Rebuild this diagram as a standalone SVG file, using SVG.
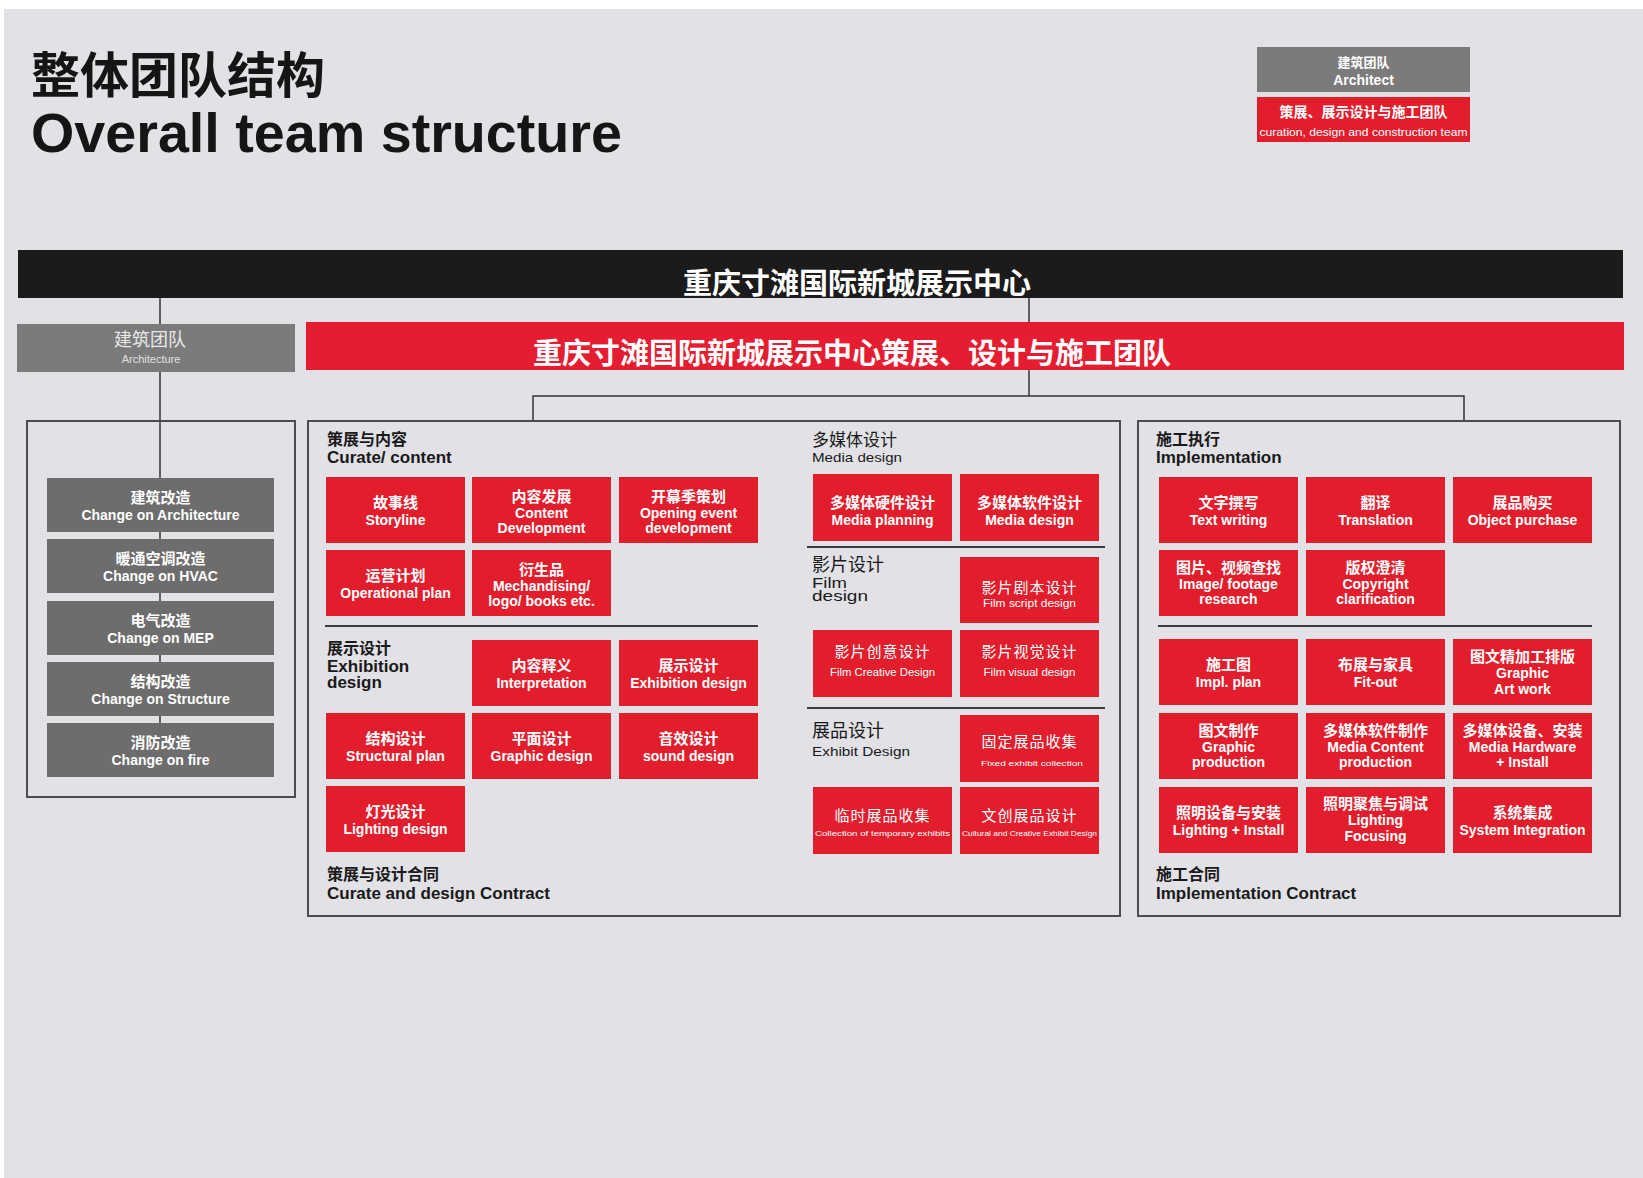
<svg xmlns="http://www.w3.org/2000/svg" width="1643" height="1178" viewBox="0 0 1643 1178">
<defs>
<style>
text{font-family:"Liberation Sans","Noto Sans CJK SC",sans-serif}
.cjk{font-family:"Noto Sans CJK SC","Liberation Sans",sans-serif}
.rb{fill:#e21e2d}
.gb{fill:#6d6d6d}
.w{fill:#fff}
.bd{font-weight:bold}
.c{text-anchor:middle}
.z{font-size:15px;font-weight:bold;fill:#fff;text-anchor:middle}
.e{font-size:14px;font-weight:bold;fill:#fff;text-anchor:middle}
.fz{font-size:15px;fill:#fff;text-anchor:middle;letter-spacing:1px}
.fe{font-size:11px;fill:#fff;text-anchor:middle}
.te{font-size:8px;fill:#fff;text-anchor:middle}
.frame{fill:none;stroke:#4d4d4d;stroke-width:2}
.sep{stroke:#3d3d3d;stroke-width:2}
.conn{fill:none;stroke:#333;stroke-width:1.5}
.h{font-size:17px;font-weight:bold;fill:#1a1a1a}
.hz{font-size:16px;font-weight:bold;fill:#1a1a1a}
</style>
</defs>
<rect x="0" y="0" width="1643" height="1178" fill="#ffffff"/>
<rect x="4" y="9" width="1639" height="1169" fill="#e1e1e6"/>

<g id="title">
<text class="cjk" x="31" y="93" font-size="49" font-weight="bold" fill="#151515">整体团队结构</text>
<text x="31" y="152" font-size="56" font-weight="bold" fill="#151515" textLength="591" lengthAdjust="spacingAndGlyphs">Overall team structure</text>
</g>

<g id="legend">
<rect x="1257" y="47" width="213" height="45" fill="#7b7b7b"/>
<text class="w bd c" x="1363.5" y="67" font-size="13">建筑团队</text>
<text class="w bd c" x="1363.5" y="85" font-size="14">Architect</text>
<rect x="1257" y="97" width="213" height="45" class="rb"/>
<text class="w bd c" x="1363.5" y="117" font-size="14">策展、展示设计与施工团队</text>
<text class="w c" x="1363.5" y="136" font-size="11" textLength="208" lengthAdjust="spacingAndGlyphs">curation, design and construction team</text>
</g>

<g id="connectors">
<line class="conn" x1="160" y1="297" x2="160" y2="324"/>
<line class="conn" x1="160" y1="372" x2="160" y2="723"/>
<line class="conn" x1="1029" y1="297" x2="1029" y2="322"/>
<polyline class="conn" points="1029,370 1029,396"/>
<polyline class="conn" points="533,421 533,396 1464,396 1464,421"/>
</g>

<g id="client">
<rect x="18" y="250" width="1605" height="48" fill="#1b1b1b"/>
<text class="w bd c" x="857" y="294" font-size="29">重庆寸滩国际新城展示中心</text>
</g>

<g id="architecture-team">
<rect x="17" y="324" width="278" height="48" fill="#7b7b7b"/>
<text class="c" x="150" y="346" font-size="18" fill="#e8e8e8">建筑团队</text>
<text class="c" x="151" y="363" font-size="11" fill="#e0e0e0">Architecture</text>
</g>

<g id="curation-team">
<rect x="306" y="322" width="1318" height="48" fill="#e41d31"/>
<text class="w bd" x="533" y="364" font-size="29">重庆寸滩国际新城展示中心策展、设计与施工团队</text>
</g>

<g id="frames">
<rect class="frame" x="27" y="421" width="268" height="376"/>
<rect class="frame" x="308" y="421" width="812" height="495"/>
<rect class="frame" x="1138" y="421" width="482" height="495"/>
<line class="sep" x1="325" y1="626" x2="758" y2="626"/>
<line class="sep" x1="807" y1="547" x2="1105" y2="547"/>
<line class="sep" x1="807" y1="708" x2="1105" y2="708"/>
<line class="sep" x1="1158" y1="626" x2="1592" y2="626"/>
</g>

<g id="arch-items">
<g id="a1"><rect class="gb" x="47" y="478" width="227" height="54"/><text class="z" x="160.5" y="503">建筑改造</text><text class="e" x="160.5" y="520">Change on Architecture</text></g>
<g id="a2"><rect class="gb" x="47" y="539" width="227" height="54"/><text class="z" x="160.5" y="564">暖通空调改造</text><text class="e" x="160.5" y="581">Change on HVAC</text></g>
<g id="a3"><rect class="gb" x="47" y="601" width="227" height="54"/><text class="z" x="160.5" y="626">电气改造</text><text class="e" x="160.5" y="643">Change on MEP</text></g>
<g id="a4"><rect class="gb" x="47" y="662" width="227" height="54"/><text class="z" x="160.5" y="687">结构改造</text><text class="e" x="160.5" y="704">Change on Structure</text></g>
<g id="a5"><rect class="gb" x="47" y="723" width="227" height="54"/><text class="z" x="160.5" y="748">消防改造</text><text class="e" x="160.5" y="765">Change on fire</text></g>
</g>

<g id="curate-labels">
<text class="hz" x="327" y="445">策展与内容</text>
<text class="h" x="327" y="463">Curate/ content</text>
<text class="hz" x="327" y="654">展示设计</text>
<text class="h" x="327" y="672">Exhibition</text>
<text class="h" x="327" y="688">design</text>
<text class="hz" x="327" y="880">策展与设计合同</text>
<text class="h" x="327" y="899">Curate and design Contract</text>
</g>

<g id="c1"><rect class="rb" x="326" y="477" width="139" height="66"/><text class="z" x="395.5" y="508">故事线</text><text class="e" x="395.5" y="525">Storyline</text></g>
<g id="c2"><rect class="rb" x="472" y="477" width="139" height="66"/><text class="z" x="541.5" y="502">内容发展</text><text class="e" x="541.5" y="518">Content</text><text class="e" x="541.5" y="533">Development</text></g>
<g id="c3"><rect class="rb" x="619" y="477" width="139" height="66"/><text class="z" x="688.5" y="502">开幕季策划</text><text class="e" x="688.5" y="518">Opening event</text><text class="e" x="688.5" y="533">development</text></g>
<g id="c4"><rect class="rb" x="326" y="550" width="139" height="66"/><text class="z" x="395.5" y="581">运营计划</text><text class="e" x="395.5" y="598">Operational plan</text></g>
<g id="c5"><rect class="rb" x="472" y="550" width="139" height="66"/><text class="z" x="541.5" y="575">衍生品</text><text class="e" x="541.5" y="591">Mechandising/</text><text class="e" x="541.5" y="606">logo/ books etc.</text></g>
<g id="c6"><rect class="rb" x="472" y="640" width="139" height="66"/><text class="z" x="541.5" y="671">内容释义</text><text class="e" x="541.5" y="688">Interpretation</text></g>
<g id="c7"><rect class="rb" x="619" y="640" width="139" height="66"/><text class="z" x="688.5" y="671">展示设计</text><text class="e" x="688.5" y="688">Exhibition design</text></g>
<g id="c8"><rect class="rb" x="326" y="713" width="139" height="66"/><text class="z" x="395.5" y="744">结构设计</text><text class="e" x="395.5" y="761">Structural plan</text></g>
<g id="c9"><rect class="rb" x="472" y="713" width="139" height="66"/><text class="z" x="541.5" y="744">平面设计</text><text class="e" x="541.5" y="761">Graphic design</text></g>
<g id="c10"><rect class="rb" x="619" y="713" width="139" height="66"/><text class="z" x="688.5" y="744">音效设计</text><text class="e" x="688.5" y="761">sound design</text></g>
<g id="c11"><rect class="rb" x="326" y="786" width="139" height="66"/><text class="z" x="395.5" y="817">灯光设计</text><text class="e" x="395.5" y="834">Lighting design</text></g>

<g id="media-labels">
<text x="812" y="446" font-size="17" fill="#1a1a1a">多媒体设计</text>
<text x="812" y="462" font-size="13" fill="#1a1a1a" textLength="90" lengthAdjust="spacingAndGlyphs">Media design</text>
<text x="812" y="571" font-size="18" fill="#1a1a1a">影片设计</text>
<text x="812" y="588" font-size="14" fill="#1a1a1a" textLength="35" lengthAdjust="spacingAndGlyphs">Film</text>
<text x="812" y="601" font-size="14" fill="#1a1a1a" textLength="56" lengthAdjust="spacingAndGlyphs">design</text>
<text x="812" y="737" font-size="18" fill="#1a1a1a">展品设计</text>
<text x="812" y="756" font-size="13" fill="#1a1a1a" textLength="98" lengthAdjust="spacingAndGlyphs">Exhibit Design</text>
</g>

<g id="m1"><rect class="rb" x="813" y="474" width="139" height="67"/><text class="z" x="882.5" y="508">多媒体硬件设计</text><text class="e" x="882.5" y="525">Media planning</text></g>
<g id="m2"><rect class="rb" x="960" y="474" width="139" height="67"/><text class="z" x="1029.5" y="508">多媒体软件设计</text><text class="e" x="1029.5" y="525">Media design</text></g>
<g id="m3"><rect class="rb" x="960" y="557" width="139" height="66"/><text class="fz" x="1029.5" y="593">影片剧本设计</text><text class="fe" x="1029.5" y="607" textLength="93" lengthAdjust="spacingAndGlyphs">Film script design</text></g>
<g id="m4"><rect class="rb" x="813" y="630" width="139" height="67"/><text class="fz" x="882.5" y="657">影片创意设计</text><text class="fe" x="882.5" y="676" textLength="105" lengthAdjust="spacingAndGlyphs">Film Creative Design</text></g>
<g id="m5"><rect class="rb" x="960" y="630" width="139" height="67"/><text class="fz" x="1029.5" y="657">影片视觉设计</text><text class="fe" x="1029.5" y="676" textLength="92" lengthAdjust="spacingAndGlyphs">Film visual design</text></g>
<g id="m6"><rect class="rb" x="960" y="715" width="139" height="67"/><text class="fz" x="1029.5" y="747">固定展品收集</text><text class="te" x="1032" y="766" textLength="102" lengthAdjust="spacingAndGlyphs">Fixed exhibit collection</text></g>
<g id="m7"><rect class="rb" x="813" y="787" width="139" height="67"/><text class="fz" x="882.5" y="821">临时展品收集</text><text class="te" x="882.5" y="836" textLength="135" lengthAdjust="spacingAndGlyphs">Collection of temporary exhibits</text></g>
<g id="m8"><rect class="rb" x="960" y="787" width="139" height="67"/><text class="fz" x="1029.5" y="821">文创展品设计</text><text class="te" x="1029.5" y="836" textLength="135" lengthAdjust="spacingAndGlyphs">Cultural and Creative Exhibit Design</text></g>

<g id="impl-labels">
<text class="hz" x="1156" y="445">施工执行</text>
<text class="h" x="1156" y="463">Implementation</text>
<text class="hz" x="1156" y="880">施工合同</text>
<text class="h" x="1156" y="899">Implementation Contract</text>
</g>

<g id="i1"><rect class="rb" x="1159" y="477" width="139" height="66"/><text class="z" x="1228.5" y="508">文字撰写</text><text class="e" x="1228.5" y="525">Text writing</text></g>
<g id="i2"><rect class="rb" x="1306" y="477" width="139" height="66"/><text class="z" x="1375.5" y="508">翻译</text><text class="e" x="1375.5" y="525">Translation</text></g>
<g id="i3"><rect class="rb" x="1453" y="477" width="139" height="66"/><text class="z" x="1522.5" y="508">展品购买</text><text class="e" x="1522.5" y="525">Object purchase</text></g>
<g id="i4"><rect class="rb" x="1159" y="550" width="139" height="66"/><text class="z" x="1228.5" y="573">图片、视频查找</text><text class="e" x="1228.5" y="589">Image/ footage</text><text class="e" x="1228.5" y="604">research</text></g>
<g id="i5"><rect class="rb" x="1306" y="550" width="139" height="66"/><text class="z" x="1375.5" y="573">版权澄清</text><text class="e" x="1375.5" y="589">Copyright</text><text class="e" x="1375.5" y="604">clarification</text></g>
<g id="i6"><rect class="rb" x="1159" y="639" width="139" height="66"/><text class="z" x="1228.5" y="670">施工图</text><text class="e" x="1228.5" y="687">Impl. plan</text></g>
<g id="i7"><rect class="rb" x="1306" y="639" width="139" height="66"/><text class="z" x="1375.5" y="670">布展与家具</text><text class="e" x="1375.5" y="687">Fit-out</text></g>
<g id="i8"><rect class="rb" x="1453" y="639" width="139" height="66"/><text class="z" x="1522.5" y="662">图文精加工排版</text><text class="e" x="1522.5" y="678">Graphic</text><text class="e" x="1522.5" y="694">Art work</text></g>
<g id="i9"><rect class="rb" x="1159" y="713" width="139" height="66"/><text class="z" x="1228.5" y="736">图文制作</text><text class="e" x="1228.5" y="752">Graphic</text><text class="e" x="1228.5" y="767">production</text></g>
<g id="i10"><rect class="rb" x="1306" y="713" width="139" height="66"/><text class="z" x="1375.5" y="736">多媒体软件制作</text><text class="e" x="1375.5" y="752">Media Content</text><text class="e" x="1375.5" y="767">production</text></g>
<g id="i11"><rect class="rb" x="1453" y="713" width="139" height="66"/><text class="z" x="1522.5" y="736">多媒体设备、安装</text><text class="e" x="1522.5" y="752">Media Hardware</text><text class="e" x="1522.5" y="767">+ Install</text></g>
<g id="i12"><rect class="rb" x="1159" y="787" width="139" height="66"/><text class="z" x="1228.5" y="818">照明设备与安装</text><text class="e" x="1228.5" y="835">Lighting + Install</text></g>
<g id="i13"><rect class="rb" x="1306" y="787" width="139" height="66"/><text class="z" x="1375.5" y="809">照明聚焦与调试</text><text class="e" x="1375.5" y="825">Lighting</text><text class="e" x="1375.5" y="841">Focusing</text></g>
<g id="i14"><rect class="rb" x="1453" y="787" width="139" height="66"/><text class="z" x="1522.5" y="818">系统集成</text><text class="e" x="1522.5" y="835">System Integration</text></g>
</svg>
